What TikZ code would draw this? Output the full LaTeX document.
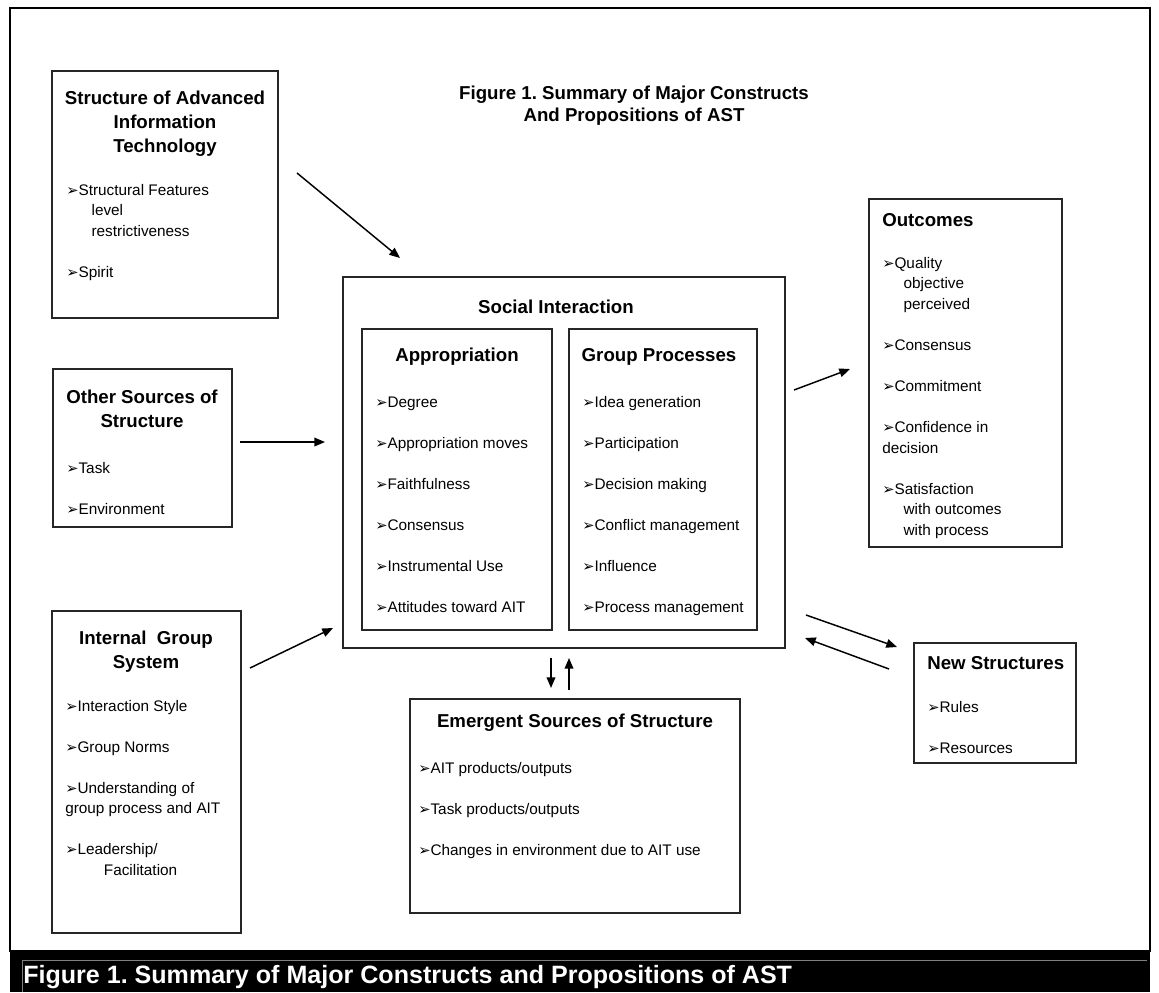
\documentclass[tikz,border=0pt]{standalone}
\usepackage{fontspec}
\setmainfont{Liberation Sans}
\newfontfamily\dejavu{DejaVu Sans}
\usetikzlibrary{arrows.meta}
\frenchspacing

\newcommand{\bul}{{\dejavu\fontsize{11}{11}\selectfont ➢}}
\newcommand{\ind}[1]{\hspace*{#1pt}}
\newcommand{\hs}{\rule{0pt}{13pt}}
\newcommand{\bs}{\rule{0pt}{11pt}}

\begin{document}
\begin{tikzpicture}[x=0.75pt,y=-0.75pt,>={Triangle[length=8pt,width=6.5pt]},
  box/.style 2 args={draw=black!85,line width=0.9pt,anchor=north west,inner sep=0pt,outer sep=0pt,
    minimum width=#1*0.75pt,minimum height=#2*0.75pt},
  head/.style={anchor=north,inner sep=0pt,align=center,font=\fontsize{14}{18}\selectfont\bfseries},
  lhead/.style={anchor=north west,inner sep=0pt,align=left,font=\fontsize{14}{18}\selectfont\bfseries},
  body/.style={anchor=north west,inner sep=0pt,align=left,font=\fontsize{11.5}{15.4}\selectfont},
  arr/.style={->,line width=1.1pt}]
  \useasboundingbox (0,0) rectangle (1159,992);
  % frame and caption bar
  \draw[line width=1.8pt] (10,8) rectangle (1150,951);
  \fill[black] (10,951) rectangle (1150,992);
  \draw[gray,line width=0.6pt] (22,992) -- (22,960) -- (1147,960);
  \node[anchor=base west,inner sep=0pt,text=white,font=\fontsize{18.8}{22}\selectfont\bfseries] (cap) at (23,983)
    {Figure 1. Summary of Major Constructs and Propositions of AST};
  \node[head,font=\fontsize{14}{16.5}\selectfont\bfseries] (title) at (634,81.7)
    {\hs Figure 1. Summary of Major Constructs\\And Propositions of AST};

  % boxes
  \node[box={226}{247}] (sait) at (52,71) {};
  \node[box={179}{158}] (os) at (53,369) {};
  \node[box={189}{322}] (igs) at (52,611) {};
  \node[box={442}{371}] (si) at (343,277) {};
  \node[box={190}{301}] (appr) at (362,329) {};
  \node[box={188}{301}] (grp) at (569,329) {};
  \node[box={193}{348}] (outc) at (869,199) {};
  \node[box={162}{120}] (news) at (914,643) {};
  \node[box={330}{214}] (emer) at (410,699) {};

  % texts
  \node[head] (sait-h) at (165,86.7) {\hs Structure of Advanced\\Information\\Technology};
  \node[body] (sait-b) at (66,180.3) {\bs\bul Structural Features\\\ind{19}level\\\ind{19}restrictiveness\\[15.4pt]\bul Spirit};
  \node[head] (os-h) at (142,385.7) {\hs Other Sources of\\Structure};
  \node[body] (os-b) at (66,458.3) {\bs\bul Task\\[15.4pt]\bul Environment};
  \node[head] (igs-h) at (146,626.7) {\hs Internal~ Group\\System};
  \node[body] (igs-b) at (65,696.3) {\bs\bul Interaction Style\\[15.4pt]\bul Group Norms\\[15.4pt]\bul Understanding of\\group process and AIT\\[15.4pt]\bul Leadership/\\\ind{29}Facilitation};
  \node[head] (si-h) at (556,295.7) {\hs Social Interaction};
  \node[head] (appr-h) at (457,343.7) {\hs Appropriation};
  \node[body] (appr-b) at (375,392.3) {\bs\bul Degree\\[15.4pt]\bul Appropriation moves\\[15.4pt]\bul Faithfulness\\[15.4pt]\bul Consensus\\[15.4pt]\bul Instrumental Use\\[15.4pt]\bul Attitudes toward AIT};
  \node[head] (grp-h) at (659,343.7) {\hs Group Processes};
  \node[body] (grp-b) at (582,392.3) {\bs\bul Idea generation\\[15.4pt]\bul Participation\\[15.4pt]\bul Decision making\\[15.4pt]\bul Conflict management\\[15.4pt]\bul Influence\\[15.4pt]\bul Process management};
  \node[lhead] (outc-h) at (882,208.7) {\hs Outcomes};
  \node[body] (outc-b) at (882,253.3) {\bs\bul Quality\\\ind{16}objective\\\ind{16}perceived\\[15.4pt]\bul Consensus\\[15.4pt]\bul Commitment\\[15.4pt]\bul Confidence in\\decision\\[15.4pt]\bul Satisfaction\\\ind{16}with outcomes\\\ind{16}with process};
  \node[lhead] (news-h) at (927,651.7) {\hs New Structures};
  \node[body] (news-b) at (927,697.3) {\bs\bul Rules\\[15.4pt]\bul Resources};
  \node[head] (emer-h) at (575,709.7) {\hs Emergent Sources of Structure};
  \node[body] (emer-b) at (418,758.3) {\bs\bul AIT products/outputs\\[15.4pt]\bul Task products/outputs\\[15.4pt]\bul Changes in environment due to AIT use};

  % arrows
  \draw[arr] ([shift={(19,102)}]sait.north east) -- ([shift={(57,-19)}]si.north west);
  \draw[arr] ([shift={(8,73)}]os.north east) -- ([shift={(-18,165)}]si.north west);
  \draw[arr] ([shift={(9,57)}]igs.north east) -- ([shift={(-10,-20)}]si.south west);
  \draw[arr] ([shift={(9,113)}]si.north east) -- ([shift={(-19,170)}]outc.north west);
  \draw[arr] ([shift={(21,-33)}]si.south east) -- ([shift={(-17,4)}]news.north west);
  \draw[arr] ([shift={(-25,26)}]news.north west) -- ([shift={(20,-10)}]si.south east);
  \draw[arr] ([shift={(-13,10)}]si.south) -- ([shift={(-24,-11)}]emer.north);
  \draw[arr] ([shift={(-6,-9)}]emer.north) -- ([shift={(5,10)}]si.south);
\end{tikzpicture}
\end{document}
